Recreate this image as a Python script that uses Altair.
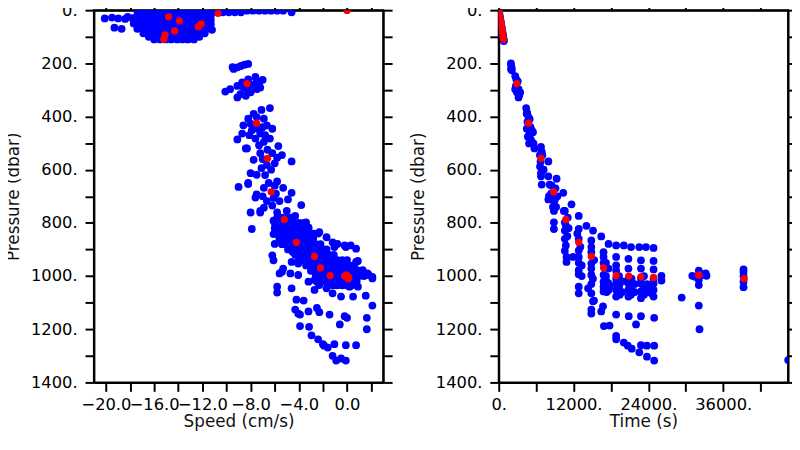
import altair as alt
import pandas as pd

# ---------------- red points: profile means (speed, time, pressure) ----------------
red_speed = [0.0, -10.7, -14.8, -13.9, -12.1, -12.35, -14.3, -15.1, -15.2,
             -8.3, -7.5, -6.6, -6.3, -5.2, -4.2, -2.7, -2.2, -1.4, -0.2, 0.0, 0.15, -0.05, 0.1]
red_time = [0, 90, 180, 290, 380, 450, 570, 660, 760,
            2910, 4780, 6780, 8800, 10760, 12830, 14850, 16810, 18830, 20850, 22800, 24830, 32090, 39360]
red_pres = [1, 12, 25, 40, 52, 62, 78, 93, 109,
            276, 425, 557, 683, 787, 873, 926, 969, 998, 1000, 1003, 1005, 996, 1010]

# ---------------- blue points, left panel (speed cm/s, pressure dbar) ----------------
surf_speeds = [-17.4, -16.9, -16.45, -16.0, -15.5, -15.05, -14.6, -14.1, -13.65, -13.2, -12.7, -12.25, -11.8, -11.3]
surf_rows = {2: surf_speeds, 19: surf_speeds, 36: surf_speeds, 53: surf_speeds, 70: surf_speeds,
             87: surf_speeds[1:13], 100: surf_speeds[2:12], 110: surf_speeds[3:11]}
surf_band = [(-10.8, 2), (-10.3, 2), (-9.8, 2), (-9.3, 2), (-8.8, 2), (-8.3, 2), (-7.8, 2), (-7.3, 2),
             (-6.8, 2), (-6.3, 2), (-5.8, 2), (-5.3, 2), (-10.8, 8), (-10.3, 8), (-9.8, 8), (-9.3, 8),
             (-8.8, 8), (-4.6, 8), (-11.2, 74), (-17.8, 30), (-17.7, 50)]
surf_left = [(-20.1, 31), (-19.5, 28), (-18.98, 31), (-18.4, 33), (-18.2, 25), (-19.3, 66), (-18.7, 70)]

mid_left = [(-9.5, 214), (-9.4, 221), (-9.1, 215), (-8.8, 210), (-8.5, 205), (-8.2, 202),
            (-10.1, 306), (-9.7, 297), (-9.1, 285), (-8.7, 272), (-8.2, 260), (-7.6, 251), (-7.5, 266),
            (-7.2, 291), (-7.75, 285), (-8.3, 297), (-8.85, 316), (-8.4, 322), (-9.1, 328), (-8.0, 309),
            (-7.5, 297), (-8.0, 280), (-8.6, 290), (-7.0, 262), (-7.3, 278),
            (-6.4, 368), (-7.1, 375), (-7.75, 390), (-8.2, 408), (-8.6, 433), (-8.7, 464), (-9.1, 486),
            (-8.3, 520), (-6.9, 408), (-6.65, 433), (-6.2, 446), (-7.2, 464), (-7.6, 483), (-7.3, 508),
            (-6.8, 470), (-6.4, 483), (-7.9, 452), (-8.0, 427), (-7.5, 402), (-7.0, 440), (-7.5, 445),
            (-8.1, 470), (-6.9, 495),
            (-5.7, 511), (-5.4, 545), (-4.6, 569), (-7.75, 563), (-8.0, 613), (-8.2, 650), (-9.0, 665),
            (-7.5, 619), (-7.1, 594), (-6.2, 538), (-7.2, 538), (-6.0, 576), (-6.65, 582), (-7.0, 560),
            (-6.3, 600), (-6.8, 620), (-5.8, 555), (-6.6, 525), (-8.4, 520),
            (-8.2, 654), (-7.5, 693), (-6.9, 668), (-5.8, 644), (-5.3, 668), (-4.6, 687), (-5.6, 718),
            (-6.1, 706), (-6.65, 718), (-7.2, 755), (-7.9, 823), (-3.8, 733), (-4.9, 712), (-6.0, 660),
            (-6.5, 650), (-7.0, 700), (-6.2, 735), (-5.9, 690), (-7.6, 705), (-8.0, 761), (-7.2, 761),
            (-6.9, 743), (-6.1, 792), (-6.1, 842)]

deep_rows = {780: [-5.8, -5.4, -5.0, -4.6],
             800: [-6.0, -5.6, -5.2, -4.8, -4.4, -4.0, -3.6],
             820: [-6.0, -5.6, -5.2, -4.8, -4.4, -4.0, -3.6, -3.2],
             840: [-5.8, -5.4, -5.0, -4.6, -4.2, -3.8, -3.4, -2.8, -2.4],
             860: [-5.6, -5.2, -4.8, -4.4, -4.0, -3.6, -3.2, -2.8],
             880: [-5.4, -5.0, -4.6, -4.2, -3.8, -3.4, -3.0, -2.6, -2.2],
             900: [-4.9, -4.5, -4.1, -3.7, -3.3, -2.9, -2.5, -2.1, -1.7],
             920: [-4.3, -3.9, -3.5, -3.1, -2.7, -2.3, -1.9, -1.5, -1.1],
             940: [-4.0, -3.6, -3.2, -2.8, -2.4, -2.0, -1.6, -1.2, -0.8, -0.4, 0.0],
             960: [-3.4, -3.0, -2.6, -2.2, -1.8, -1.4, -1.0, -0.6, -0.2, 0.2, 0.6],
             980: [-3.0, -2.6, -2.2, -1.8, -1.4, -1.0, -0.6, -0.2, 0.2, 0.6, 1.0],
             1000: [-2.6, -2.2, -1.8, -1.4, -1.0, -0.6, -0.2, 0.2, 0.6, 1.0, 1.4],
             1020: [-2.0, -1.6, -1.2, -0.8, -0.4, 0.0, 0.4, 0.8],
             1035: [-1.2, -0.8, -0.4, 0.0, 0.4]}

deep_left = [(-5.8, 761), (-5.0, 755), (-4.3, 774), (-3.4, 798), (-3.2, 817), (-5.8, 817), (-5.6, 860),
             (-3.9, 823), (-6.0, 879), (-6.2, 922), (-6.1, 941), (-4.7, 854), (-3.6, 866), (-3.1, 854),
             (-2.3, 835), (-1.7, 854), (-1.2, 873), (-0.8, 879), (-0.2, 885), (0.3, 885), (-4.5, 910),
             (-4.05, 953), (-4.6, 947), (-5.3, 972), (-5.6, 990), (-4.7, 990), (-4.05, 996),
             (0.9, 943), (1.3, 984), (1.7, 990), (2.1, 1003), (0.75, 1009), (-2.5, 1021), (-3.2, 1021),
             (-5.4, 984), (-5.8, 1040), (-5.8, 1062), (-4.6, 1046), (-4.2, 1089), (-3.6, 1092),
             (-2.7, 1052), (-4.3, 1126), (-3.9, 1145), (-3.2, 1133), (-2.5, 1120), (-2.3, 1136),
             (-1.45, 1145), (-0.2, 1151), (0.0, 1157), (-0.6, 1182), (-3.9, 1188), (-3.15, 1191),
             (-2.95, 1223), (-2.4, 1238), (-2.0, 1256), (-1.6, 1269), (-1.9, 1262), (-1.05, 1256),
             (-0.1, 1260), (0.75, 1260), (-1.2, 1300), (-0.9, 1318), (-0.1, 1318), (-0.5, 1310),
             (1.55, 1074), (2.1, 1111), (1.64, 1157), (1.64, 1200), (0.75, 947), (1.3, 978), (1.8, 996),
             (2.1, 1009), (0.9, 1040), (0.5, 1077), (-0.5, 1077), (-1.2, 1065), (-1.7, 1046),
             (-2.3, 1034), (-0.9, 1034), (0.2, 1040), (-2.7, 1015), (-1.05, 891), (-0.1, 891),
             (0.75, 897), (-4.05, 1141)]

left_blue = []
for p, speeds in surf_rows.items():
    left_blue += [(s, p) for s in speeds]
left_blue += surf_band + surf_left + mid_left
for p, speeds in deep_rows.items():
    left_blue += [(s, p) for s in speeds]
left_blue += deep_left

# ---------------- blue points, right panel (time s, pressure dbar) ----------------
right_surface = [(0, 0), (50, 6), (110, 15), (170, 23), (230, 32), (290, 40), (350, 48), (410, 57),
                 (470, 65), (530, 74), (590, 82), (650, 90), (700, 98), (750, 106), (790, 112), (820, 116)]
right_upper = [(1950, 200), (2000, 208), (2060, 216), (2110, 226), (1980, 222),
               (2640, 248), (2800, 259), (2640, 297), (3180, 297), (3180, 328), (3440, 309), (2910, 309),
               (2750, 285), (3050, 268), (3300, 318),
               (4400, 368), (4480, 390), (4780, 402), (4960, 410), (4500, 446), (4670, 476), (4960, 466),
               (5300, 452), (5490, 459), (5570, 501), (5730, 520), (4870, 501), (4600, 420), (5100, 440),
               (5200, 490), (4550, 385), (5000, 480),
               (6780, 514), (6890, 532), (6620, 588), (6780, 613), (7960, 569), (6890, 656), (6780, 625),
               (6700, 570), (7000, 545), (7200, 600), (6600, 545),
               (7960, 625), (9280, 634), (8160, 656), (8060, 699), (10350, 687), (9010, 712), (8500, 660),
               (8600, 700), (9100, 670), (7960, 712), (8850, 718), (8850, 755), (8850, 798), (8850, 823),
               (11670, 730), (10600, 755), (8700, 740), (9200, 740), (8400, 690), (9400, 700)]
right_deep = [(10440, 755), (11070, 780), (10600, 798), (10600, 829), (10600, 860), (10760, 885),
              (10870, 928), (10870, 947), (11940, 928), (12830, 774), (10760, 810), (11200, 820),
              (11000, 850), (10600, 905),
              (12830, 823), (12830, 860), (12830, 904), (12830, 928), (12830, 978), (12830, 993),
              (12830, 1040), (12830, 1065), (14060, 811), (14330, 1046), (14850, 1065), (15280, 1092),
              (12600, 840), (13100, 890), (12830, 950), (13300, 1000), (13300, 960),
              (14850, 866), (14850, 891), (14850, 953), (14850, 972), (14850, 996), (15120, 829),
              (14850, 1126), (14850, 1141), (16440, 851), (16440, 1133), (16720, 1114), (16870, 1188),
              (17770, 1186), (14850, 910), (15300, 940), (15100, 1010), (14850, 1030), (15120, 1095),
              (16810, 910), (16810, 928), (16810, 996), (16810, 1021), (16810, 1040), (16810, 1058),
              (17610, 879), (17610, 972), (17610, 1028), (17610, 1052), (17200, 950), (17200, 1000),
              (16810, 950), (17300, 1020), (17800, 1040), (17300, 1060),
              (18830, 885), (18830, 928), (18830, 960), (18830, 1028), (18830, 1052), (18830, 1077),
              (18830, 1145), (18830, 1225), (18830, 1238), (20060, 1250), (20700, 1262), (21330, 1273),
              (18830, 1010), (19300, 1000), (19300, 1040), (18830, 980), (19400, 1070), (19800, 1020),
              (19800, 1060),
              (20060, 885), (21220, 891), (20800, 935), (20800, 972), (20800, 1028), (20800, 1052),
              (20800, 1077), (20850, 1151), (22020, 1182), (22540, 1287), (21300, 1010), (21300, 1045),
              (20800, 1010), (21200, 1070), (21800, 1030), (21800, 1060),
              (22540, 891), (22810, 941), (22810, 972), (22810, 1028), (22810, 1058), (22810, 1083),
              (22810, 1151), (22810, 1260), (23770, 1262), (23770, 1303), (23610, 891), (23300, 1000),
              (23300, 1040), (23300, 1070), (22810, 1010), (23800, 1030), (23800, 1060),
              (24830, 894), (24830, 943), (24830, 975), (24830, 1028), (24830, 1052), (24830, 1077),
              (24930, 1157), (24930, 1262), (24930, 1318), (26100, 999), (26100, 1017), (24830, 1010),
              (24500, 1040), (24500, 1065),
              (29340, 1081),
              (32090, 980), (32090, 1034), (32090, 1111), (32200, 1200), (31040, 999), (33320, 999),
              (32090, 1015), (31500, 1003), (32700, 996), (33200, 990),
              (39260, 975), (39260, 985), (39260, 1021), (39260, 1042), (39260, 1000),
              (46420, 1316)]
right_blue = right_surface + right_upper + right_deep

# ---------------- tables ----------------
df_red = pd.DataFrame({"speed": red_speed, "time": red_time, "pres": red_pres})
df_lb = pd.DataFrame(left_blue, columns=["speed", "pres"])
df_rb = pd.DataFrame(right_blue, columns=["time", "pres"])

FONT = "DejaVu Sans"
BLUE = "#0000ff"
RED = "#ff0000"

y_scale = alt.Scale(domain=[0, 1400], reverse=True, nice=False, zero=False)
s_scale = alt.Scale(domain=[-21, 3], nice=False, zero=False)
t_scale = alt.Scale(domain=[0, 46400], nice=False, zero=False)

p_ticks = list(range(0, 1401, 100))
s_ticks = list(range(-20, 3, 2))
t_ticks = list(range(0, 42001, 6000))

y_lab = "indexof([0,200,400,600,800,1000,1200,1400], datum.value) >= 0 ? datum.value + '.' : ''"
s_lab = "indexof([-20,-16,-12,-8,-4,0], datum.value) >= 0 ? format(datum.value, '.1f') : ''"
t_lab = "indexof([0,12000,24000,36000], datum.value) >= 0 ? datum.value + '.' : ''"


def y_left():
    return alt.Axis(orient="left", values=p_ticks, labelExpr=y_lab, title="Pressure (dbar)",
                    labelPadding=8, titlePadding=8, labelOverlap=False, labelBaseline="middle",
                    labelBound=False)


def y_right():
    return alt.Axis(orient="right", values=p_ticks, labels=False, title=None)


def x_bottom(vals, expr, title):
    return alt.Axis(orient="bottom", values=vals, labelExpr=expr, title=title,
                    labelPadding=5, titlePadding=1, labelOverlap=False, labelFlush=False,
                    labelBound=False)


def x_top(vals):
    return alt.Axis(orient="top", values=vals, labels=False, title=None)


def panel(df_blue, xfield, xscale, xvals, xexpr, xtitle):
    blue = alt.Chart(df_blue).mark_circle(size=62, color=BLUE, opacity=1, clip=True).encode(
        x=alt.X(f"{xfield}:Q", scale=xscale, axis=x_bottom(xvals, xexpr, xtitle)),
        y=alt.Y("pres:Q", scale=y_scale, axis=y_left()),
    )
    red = alt.Chart(df_red).mark_circle(size=54, color=RED, opacity=1, clip=True).encode(
        x=alt.X(f"{xfield}:Q", scale=xscale, axis=x_top(xvals)),
        y=alt.Y("pres:Q", scale=y_scale, axis=y_right()),
    )
    return alt.layer(blue, red).resolve_axis(x="independent", y="independent").properties(
        width=293, height=377)


left = panel(df_lb, "speed", s_scale, s_ticks, s_lab, "Speed (cm/s)")
right = panel(df_rb, "time", t_scale, t_ticks, t_lab, "Time (s)")

chart = alt.hconcat(left, right, spacing=14).properties(
    padding={"left": -5, "top": -11.5, "right": -7, "bottom": -3},
    background="white",
).configure_view(stroke="black", strokeWidth=2).configure_axis(
    domainColor="black", domainWidth=2, tickColor="black", tickWidth=2, tickSize=9,
    grid=False, labelFont=FONT, labelFontSize=16.5, labelColor="black",
    titleFont=FONT, titleFontSize=17, titleFontWeight="normal", titleColor="#111111"
)

chart.save("out.html", embed_options={"renderer": "svg", "actions": False})
